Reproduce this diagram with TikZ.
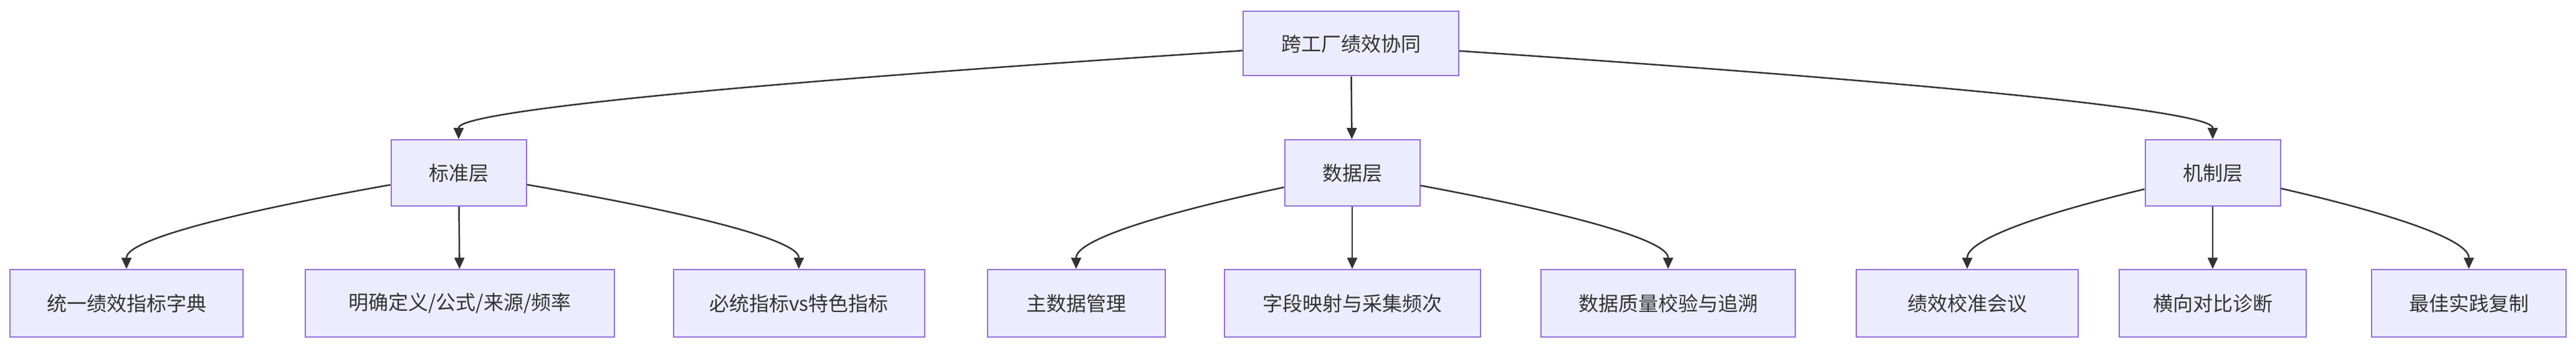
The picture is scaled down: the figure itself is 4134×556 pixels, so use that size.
\documentclass[tikz,border=0pt]{standalone}
\usepackage{fontspec}
\newfontfamily\cjk{Noto Sans CJK SC}
\usetikzlibrary{arrows.meta,calc}
\begin{document}
\begin{tikzpicture}[x=1pt,y=-1pt,
  box/.style={draw={rgb,255:red,147;green,112;blue,219},fill={rgb,255:red,236;green,236;blue,255},line width=2pt,inner sep=0,font=\cjk\fontsize{32}{38}\selectfont,text={rgb,255:red,51;green,51;blue,51}},
  arr/.style={draw={rgb,255:red,51;green,51;blue,51},line width=2.5pt,-{Triangle[length=18pt,width=16pt]}}]
\useasboundingbox (0,0) rectangle (4134,556);
\node[box,minimum width=346,minimum height=103] (root) at (2168,70) {跨工厂绩效协同};
\node[box,minimum width=217,minimum height=106] (a) at (736,277) {标准层};
\node[box,minimum width=217,minimum height=106] (b) at (2170,277) {数据层};
\node[box,minimum width=217,minimum height=106] (c) at (3551,277) {机制层};
\tikzset{leaf/.style={box,minimum height=108}}
\node[leaf,minimum width=374] (a1) at (203,486) {统一绩效指标字典};
\node[leaf,minimum width=496] (a2) at (738,486) {明确定义/公式/来源/频率};
\node[leaf,minimum width=403] (a3) at (1282,486) {必统指标vs特色指标};
\node[leaf,minimum width=285] (b1) at (1727,486) {主数据管理};
\node[leaf,minimum width=411] (b2) at (2170,486) {字段映射与采集频次};
\node[leaf,minimum width=408] (b3) at (2677,486) {数据质量校验与追溯};
\node[leaf,minimum width=356] (c1) at (3157,486) {绩效校准会议};
\node[leaf,minimum width=300] (c2) at (3551,486) {横向对比诊断};
\node[leaf,minimum width=312] (c3) at (3962,486) {最佳实践复制};
\foreach \p/\q in {root/a,root/c,a/a1,a/a3,b/b1,b/b3,c/c1,c/c3}
  \draw[arr] (\p) .. controls ($(\q.north)+(0,-60)$) and ($(\q.north)+(0,-25)$) .. (\q.north);
\foreach \p/\q in {root/b,a/a2,b/b2,c/c2}
  \draw[arr] (\p) -- (\q);
\end{tikzpicture}
\end{document}
